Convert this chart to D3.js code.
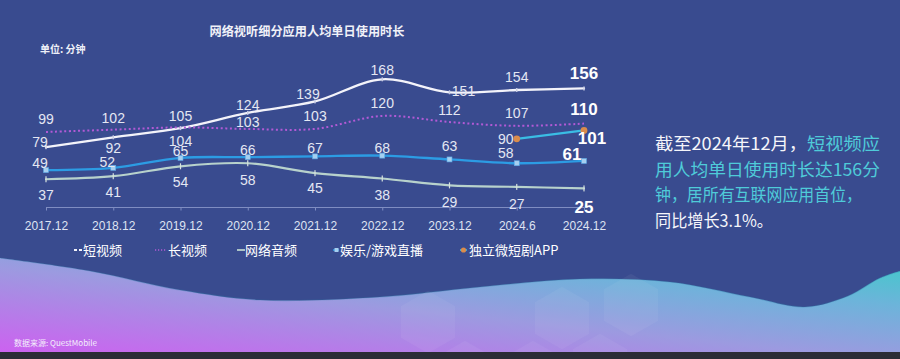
<!DOCTYPE html>
<html><head><meta charset="utf-8">
<script src="https://cdn.jsdelivr.net/npm/d3@7/dist/d3.min.js"></script>
<style>
html,body{margin:0;padding:0;background:#394b8f;}
svg{display:block;}
</style></head>
<body>
<svg id="c" width="900" height="359"></svg>
<script>
// ---- data ----
const categories = ["2017.12","2018.12","2019.12","2020.12","2021.12","2022.12","2023.12","2024.6","2024.12"];
const shortVideo = [79,92,104,124,139,168,151,154,156];
const longVideo  = [99,102,105,103,103,120,112,107,110];
const netAudio   = [37,41,54,58,45,38,29,27,25];
const liveStream = [49,52,65,66,67,68,63,58,61];
const microDrama = [null,null,null,null,null,null,null,90,101];
const seriesNames = ["短视频","长视频","网络音频","娱乐/游戏直播","独立微短剧APP"];
const titleText = "网络视听细分应用人均单日使用时长";
const unitText = "单位: 分钟";
const sourceText = "数据来源: QuestMobile";

// ---- layout config (label offsets per point) ----
const labelOff = {
  short: [[-6,-5],[0,11],[0,13],[0,-8],[-7,-7],[0,-9],[14,-1],[0,-13],[0,-16]],
  long:  [[0,-13],[0,-12],[0,-11],[0,-7],[0,-13],[0,-13],[0,-12],[0,-13],[0,-15]],
  audio: [[0,16],[0,15.5],[0,16],[0,17],[0,15],[0,16.5],[0,17],[0,17],[0,18]],
  live:  [[-6,-7],[-6,-6],[0,-7],[0,-7],[0,-8],[0,-8],[0,-13],[-11,-10],[-12,-7]],
  micro: [[0,0],[0,0],[0,0],[0,0],[0,0],[0,0],[0,0],[-11,0],[8,7]]
};

const svg = d3.select("#c");
const W = 900, H = 359;
const defs = svg.append("defs");

// background
svg.append("rect").attr("width",W).attr("height",H).attr("fill","#394b8f");

// bottom wave gradient
const g1 = defs.append("linearGradient").attr("id","wg")
  .attr("x1","0").attr("y1","1").attr("x2","1").attr("y2","0");
g1.append("stop").attr("offset","0").attr("stop-color","#cc62f0");
g1.append("stop").attr("offset","0.45").attr("stop-color","#9c9ae0");
g1.append("stop").attr("offset","0.75").attr("stop-color","#6cb4da");
g1.append("stop").attr("offset","1").attr("stop-color","#3ecbc9");

const wavePts = [[0,258],[90,271],[180,290],[260,300],[380,297],[480,287],[580,279],[670,282],[750,297],[805,307],[848,296],[880,278],[900,271]];
const waveLine = d3.line().curve(d3.curveCatmullRom.alpha(0.5));
const wavePath = waveLine(wavePts) + "L900,352L0,352Z";
svg.append("path").attr("d",wavePath).attr("fill","url(#wg)");
svg.append("path").attr("d",waveLine(wavePts)).attr("fill","none").attr("stroke","#2f7fa8").attr("stroke-opacity",0.3).attr("stroke-width",1.2);

// faint hexagons
const hexR = 33;
function hexPath(cx,cy,r){
  const pts = d3.range(6).map(i=>{const a=Math.PI/3*i - Math.PI/2; return [cx+r*Math.cos(a), cy+r*Math.sin(a)];});
  return "M"+pts.map(p=>p.join(",")).join("L")+"Z";
}
const hexCenters = [[428,322],[562,318],[631,305],[465,372],[533,372],[600,365]];
svg.append("g").selectAll("path").data(hexCenters).join("path")
  .attr("d",d=>hexPath(d[0],d[1],hexR*0.95))
  .attr("fill","#ffffff").attr("fill-opacity",0.05);

// bottom dark band
svg.append("rect").attr("x",0).attr("y",352).attr("width",W).attr("height",7).attr("fill","#2b2c36");

// ---- scales ----
const x = d3.scalePoint().domain(categories).range([46,584]);
const y = d3.scaleLinear().domain([0,200]).range([207.5, 207.5-152.6]);

// title
svg.append("text").attr("x",307).attr("y",32).attr("dy","0.35em")
  .attr("text-anchor","middle").attr("font-family","Noto Sans CJK SC")
  .attr("font-size",12.5).attr("font-weight","bold").attr("fill","#f0f1f8")
  .attr("textLength",195).attr("lengthAdjust","spacingAndGlyphs")
  .text(titleText);
svg.append("text").attr("x",40).attr("y",49).attr("dy","0.35em")
  .attr("font-family","Noto Sans CJK SC").attr("font-size",10).attr("font-weight","bold")
  .attr("fill","#eef0f8").text(unitText);

// axis
const axis = d3.axisBottom(x).tickSize(3).tickPadding(11);
const ag = svg.append("g").attr("transform","translate(0,207.5)").call(axis);
ag.select(".domain").attr("stroke","#7f8dc2").attr("stroke-width",1).attr("d","M46,0H584");
ag.selectAll(".tick line").attr("stroke","#7f8dc2");
ag.selectAll(".tick text").attr("fill","#dfe3f2").attr("font-family","Liberation Sans, Arial, sans-serif").attr("font-size",12);

// series definitions
const series = [
  {key:"short", name:seriesNames[0], vals:shortVideo, color:"#f3f3fa", width:2.3, dash:null},
  {key:"long",  name:seriesNames[1], vals:longVideo,  color:"#b25ad6", width:2, dash:"2,2.6"},
  {key:"audio", name:seriesNames[2], vals:netAudio,   color:"#b8d2cc", width:2.2, dash:null},
  {key:"live",  name:seriesNames[3], vals:liveStream, color:"#2c9ce4", width:2.3, dash:null},
  {key:"micro", name:seriesNames[4], vals:microDrama, color:"#3abde4", width:2.2, dash:null}
];

const line = d3.line()
  .defined(d=>d.v!=null)
  .x(d=>x(d.c)).y(d=>y(d.v))
  .curve(d3.curveCatmullRom.alpha(0.5));

const linesG = svg.append("g");
series.forEach(s=>{
  const pts = categories.map((c,i)=>({c, v:s.vals[i], i}));
  linesG.append("path").datum(pts).attr("d",line)
    .attr("fill","none").attr("stroke",s.color).attr("stroke-width",s.width)
    .attr("stroke-dasharray",s.dash).attr("stroke-linecap",s.dash?"butt":"round");
  s.pts = pts.filter(p=>p.v!=null);
});

// markers
const mk = svg.append("g");
const sLive = series[3], sAudio = series[2], sMicro = series[4], sShort = series[0];
mk.selectAll(".ml").data(sLive.pts).join("rect")
  .attr("x",d=>x(d.c)-2.5).attr("y",d=>y(d.v)-2.5).attr("width",5).attr("height",5)
  .attr("fill","#a6cff0").attr("stroke","#5aa8e6").attr("stroke-width",0.6);
mk.selectAll(".ma").data(sAudio.pts).join("rect")
  .attr("x",d=>x(d.c)-0.6).attr("y",d=>y(d.v)-3).attr("width",1.2).attr("height",6)
  .attr("fill","#d6e2de");
mk.selectAll(".ms").data(sShort.pts).join("rect")
  .attr("x",d=>x(d.c)-0.7).attr("y",d=>y(d.v)-2).attr("width",1.4).attr("height",4)
  .attr("fill","#c9cde4");
mk.selectAll(".mm").data(sMicro.pts).join("circle")
  .attr("cx",d=>x(d.c)).attr("cy",d=>y(d.v)).attr("r",3.4)
  .attr("fill","#d98c4c");

// labels
const lab = svg.append("g").attr("font-family","Liberation Sans, Arial, sans-serif");
series.forEach(s=>{
  const last = categories.length-1;
  lab.selectAll(null).data(s.pts).join("text")
    .attr("x",d=>x(d.c)+labelOff[s.key][d.i][0])
    .attr("y",d=>y(d.v)+labelOff[s.key][d.i][1])
    .attr("dy","0.36em").attr("text-anchor","middle")
    .attr("font-size",d=>d.i===last?17:14)
    .attr("font-weight",d=>d.i===last?"bold":"normal")
    .attr("fill",d=>d.i===last?"#ffffff":"#e4e7f3")
    .text(d=>d.v);
});

// legend
const legX = [74,155,237,333,460];
const legY = 250;
const lg = svg.append("g");
series.forEach((s,i)=>{
  const gx = legX[i];
  const g = lg.append("g");
  if(s.key==="short"){
    g.append("line").attr("x1",gx).attr("x2",gx+8).attr("y1",legY).attr("y2",legY)
      .attr("stroke","#f3f3fa").attr("stroke-width",1.8).attr("stroke-dasharray","3,2");
  } else if(s.key==="long"){
    g.append("line").attr("x1",gx).attr("x2",gx+12).attr("y1",legY).attr("y2",legY)
      .attr("stroke",s.color).attr("stroke-width",1.4).attr("stroke-dasharray","1.2,1.8");
  } else if(s.key==="audio"){
    g.append("line").attr("x1",gx).attr("x2",gx+8).attr("y1",legY).attr("y2",legY)
      .attr("stroke",s.color).attr("stroke-width",1.8);
  } else if(s.key==="live"){
    g.append("line").attr("x1",gx).attr("x2",gx+6).attr("y1",legY).attr("y2",legY)
      .attr("stroke",s.color).attr("stroke-width",1.6);
    g.append("rect").attr("x",gx+1.5).attr("y",legY-2).attr("width",4).attr("height",4).attr("fill","#a6cff0");
  } else {
    g.append("line").attr("x1",gx).attr("x2",gx+7).attr("y1",legY).attr("y2",legY)
      .attr("stroke",s.color).attr("stroke-width",1.6);
    g.append("circle").attr("cx",gx+3.5).attr("cy",legY).attr("r",2.6).attr("fill","#d98c4c");
  }
  const offs = {short:9, long:13, audio:8, live:7, micro:9};
  g.append("text").attr("x",gx+offs[s.key]).attr("y",legY).attr("dy","0.36em")
    .attr("font-family","Noto Sans CJK SC").attr("font-size",13).attr("fill","#ffffff")
    .text(s.name);
});

// right annotation
const ann = svg.append("g").attr("font-family","Noto Sans CJK SC").attr("font-size",17);
const annLines = [
  {y:144,   w:225, parts:[["截至2024年12月，","#f5f5fa"],["短视频应","#4fcbd9"]]},
  {y:169.5, w:225, parts:[["用人均单日使用时长达156分","#4fcbd9"]]},
  {y:195,   w:207, parts:[["钟，居所有互联网应用首位，","#4fcbd9"]]},
  {y:220.5, w:118, parts:[["同比增长3.1%。","#f5f5fa"]]}
];
annLines.forEach(l=>{
  const t = ann.append("text").attr("x",655).attr("y",l.y).attr("dy","0.36em")
    .attr("textLength",l.w).attr("lengthAdjust","spacingAndGlyphs");
  l.parts.forEach(p=>t.append("tspan").attr("fill",p[1]).text(p[0]));
});

// source
svg.append("text").attr("x",14).attr("y",343).attr("dy","0.35em")
  .attr("font-family","Noto Sans CJK SC").attr("font-size",8).attr("fill","#f4eefc")
  .text(sourceText);
</script>
</body></html>
